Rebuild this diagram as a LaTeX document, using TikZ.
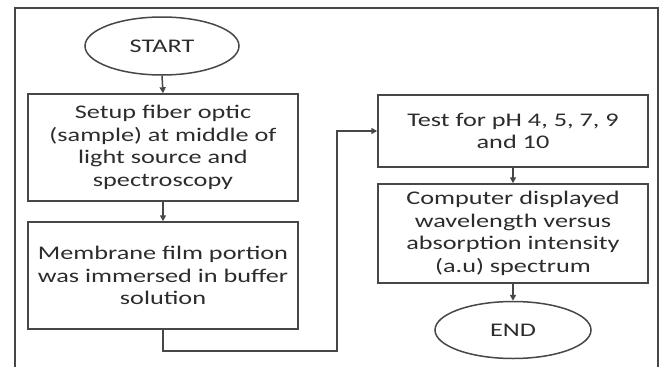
\documentclass[tikz,border=0pt]{standalone}
\usepackage{fontspec}
\setmainfont{Carlito}[FakeStretch=1.36]
\usetikzlibrary{shapes.geometric,arrows.meta}
\definecolor{ink}{HTML}{474747}
\definecolor{txt}{HTML}{2C2C2C}
\tikzset{
  base/.style={draw=ink, line width=1.5pt, text=txt, inner sep=0pt,
    align=center, font=\fontsize{19.3}{22.5}\selectfont},
  stepbox/.style={base, rectangle, minimum width=270pt},
  terminal/.style={base, ellipse},
  arr/.style={draw=ink, line width=1.5pt, -{Triangle[length=6pt,width=6pt]}},
  link/.style={draw=ink, line width=1.5pt}
}
\begin{document}
\begin{tikzpicture}[x=1pt, y=-1pt]
  \useasboundingbox (0,0) rectangle (664,367);
  % open outer frame
  \draw[link] (15,367) -- (15,8) -- (658,8) -- (658,367);

  % left column
  \node[terminal, minimum width=154pt, minimum height=58pt] (start) at (162,46) {START};
  \node[stepbox, minimum height=107pt] (b1) at (163,147.5)
    {Setup fiber optic\\(sample) at middle of\\light source and\\spectroscopy};
  \node[stepbox, minimum height=107pt] (b2) at (163,275.5)
    {Membrane film portion\\was immersed in buffer\\solution};

  % right column
  \node[stepbox, minimum height=72pt] (b3) at (513,131)
    {Test for pH 4, 5, 7, 9\\and 10};
  \node[stepbox, minimum height=99pt] (b4) at (513,233.5)
    {Computer displayed\\wavelength versus\\absorption intensity\\(a.u) spectrum};
  \node[terminal, minimum width=156pt, minimum height=57pt] (end) at (513,330) {END};

  \coordinate (turn) at (337,351);

  % connectors
  \draw[arr] (start.south) -- (b1.north);
  \draw[arr] (b1.south) -- (b2.north);
  \draw[arr] (b2.south) |- (turn) |- (b3.west);
  \draw[arr] (b3.south) -- (b4.north);
  \draw[arr] (b4.south) -- (end.north);
\end{tikzpicture}
\end{document}
